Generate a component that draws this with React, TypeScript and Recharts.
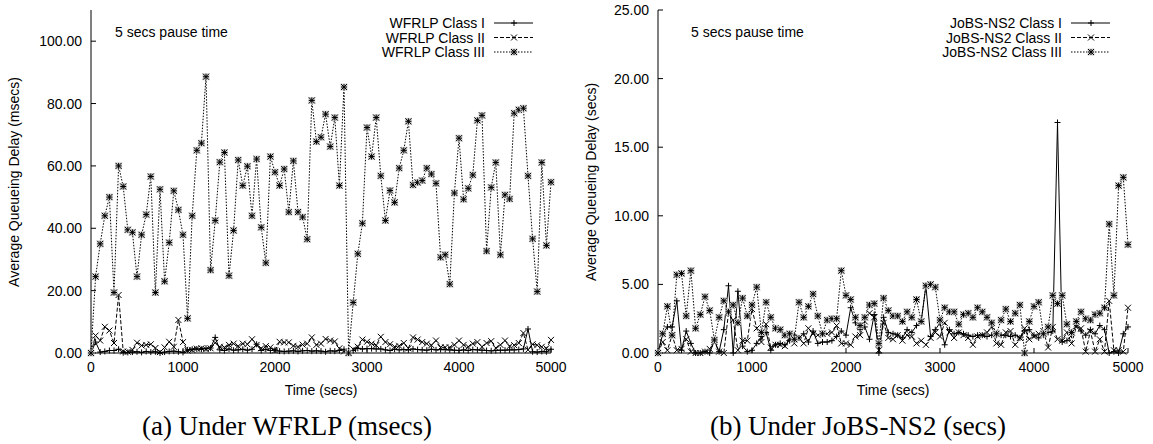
import { LineChart, Line, XAxis, YAxis, Customized } from 'recharts';

const times = [
  0, 50, 100, 150, 200, 250, 300, 350, 400, 450,
  500, 550, 600, 650, 700, 750, 800, 850, 900, 950,
  1000, 1050, 1100, 1150, 1200, 1250, 1300, 1350, 1400, 1450,
  1500, 1550, 1600, 1650, 1700, 1750, 1800, 1850, 1900, 1950,
  2000, 2050, 2100, 2150, 2200, 2250, 2300, 2350, 2400, 2450,
  2500, 2550, 2600, 2650, 2700, 2750, 2800, 2850, 2900, 2950,
  3000, 3050, 3100, 3150, 3200, 3250, 3300, 3350, 3400, 3450,
  3500, 3550, 3600, 3650, 3700, 3750, 3800, 3850, 3900, 3950,
  4000, 4050, 4100, 4150, 4200, 4250, 4300, 4350, 4400, 4450,
  4500, 4550, 4600, 4650, 4700, 4750, 4800, 4850, 4900, 4950, 5000,
];

// WFRLP, msecs
const wfrlpClass1 = [
  0, 3.5, 0.3, 0.5, 0.8, 0.8, 1.2, 0.1, 0.2, 0.3,
  0.4, 0.2, 0.5, 0.3, 0.4, 0, 0.3, 0.5, 0.6, 0.4,
  0.2, 1.0, 1.2, 1.3, 1.2, 1.5, 1.6, 5.0, 1.0, 0.8,
  1.3, 0.9, 1.0, 1.2, 0.9, 1.2, 2.8, 0.8, 1.2, 0.8,
  1.0, 0.6, 0.5, 0.6, 0.7, 0.5, 0.7, 0.8, 0.6, 0.7,
  0.6, 0.4, 0.7, 0.6, 0.8, 1.2, 0.3, 0.8, 1.5, 1.3,
  1.4, 1.4, 1.3, 1.3, 1.0, 0.8, 1.2, 1.0, 1.1, 1.0,
  1.3, 1.1, 1.0, 0.9, 1.2, 1.0, 1.1, 1.1, 1.0, 0.9,
  0.8, 1.0, 0.8, 1.1, 1.0, 0.9, 0.8, 0.7, 0.8, 0.9,
  0.9, 1.0, 1.0, 1.1, 1.3, 7.7, 0.4, 0.3, 0.5, 0.4, 1.2,
];
const wfrlpClass2 = [
  0, 5.6, 4.0, 8.4, 7.2, 3.2, 18.6, 0.5, 0.4, 1.0,
  3.3, 2.4, 2.6, 2.8, 1.6, 0.3, 1.8, 3.6, 2.0, 10.6,
  3.5, 0.8, 1.0, 1.4, 1.5, 1.2, 1.5, 3.3, 2.0, 1.8,
  2.6, 3.0, 2.2, 3.0, 2.8, 4.4, 2.6, 1.5, 2.2, 1.8,
  0.8, 3.6, 3.4, 3.4, 2.3, 2.0, 2.7, 3.0, 5.0, 2.6,
  3.0, 4.5, 4.0, 3.7, 1.5, 0.5, 0, 1.2, 2.0, 4.3,
  3.6, 3.0, 2.5, 5.2, 3.5, 2.8, 2.0, 2.3, 3.2, 1.5,
  5.0, 4.3, 3.5, 3.0, 2.5, 4.0, 1.8, 1.8, 1.8, 2.6,
  4.0, 2.6, 2.0, 3.0, 3.5, 2.0, 3.2, 3.8, 1.6, 2.6,
  4.0, 2.2, 2.5, 3.2, 6.4, 1.0, 2.8, 2.5, 2.0, 1.5, 4.2,
];
const wfrlpClass3 = [
  0, 24.5, 35, 44, 50, 19.4, 60, 53.4, 39.5, 38.7,
  24.5, 37.9, 44.4, 56.6, 19.4, 52.5, 23, 35.4, 52, 45.9,
  37.9, 11.1, 44, 65, 67.3, 88.6, 26.6, 42.5, 61.2, 64.3,
  24.8, 39.3, 61.9, 53.7, 59.9, 44, 62.2, 40.3, 28.9, 63,
  58, 53.7, 59, 45.2, 61.6, 45.2, 43.6, 36.5, 81, 67.8,
  69.2, 76.6, 66.2, 75.5, 53.7, 85.3, 0, 16.2, 31.8, 41.6,
  72.3, 63, 75.5, 56.8, 42.5, 52.1, 48.3, 59.3, 65, 74.3,
  53.9, 54.7, 55.3, 59.3, 57.4, 54.4, 30.7, 31.5, 22.1, 51.3,
  68.9, 49.3, 52.8, 57.1, 74.6, 76.2, 32.7, 53.1, 61.1, 31.5,
  50.7, 49.4, 76.9, 78, 78.5, 56.8, 36.6, 19.7, 61.1, 34.5, 54.8,
];

// JoBS-NS2, secs
const jobsClass1 = [
  0, 1.4, 1.9, 1.9, 3.8, 0.2, 1.6, 0.7, 0, 0,
  0.1, 0, 0.9, 0.1, 1.7, 4.9, 0, 4.5, 0.5, 0.1,
  0.2, 0.7, 1.2, 1.5, 0.2, 0.6, 0.7, 0.6, 0.9, 1.3,
  1.1, 1.4, 0.8, 1.6, 0.7, 0.8, 0.8, 0.9, 1.2, 1.6,
  1.3, 3.3, 2.2, 1.7, 1.9, 1.0, 2.8, 0, 2.6, 1.5,
  1.4, 1.3, 1.1, 1.7, 1.5, 2.0, 2.3, 4.9, 1.2, 1.7,
  2.2, 0.6, 1.7, 1.4, 1.5, 1.4, 1.3, 1.2, 1.3, 1.3,
  1.2, 1.3, 1.3, 1.3, 1.3, 1.2, 1.3, 1.1, 1.6, 1.7,
  1.3, 1.1, 1.3, 1.5, 1.6, 16.8, 0.8, 0.9, 1.3, 2.1,
  1.6, 1.3, 1.7, 1.4, 2.0, 1.7, 0, 0.1, 0, 1.4, 1.9,
];
const jobsClass2 = [
  0, 0.8, 0.2, 1.3, 0.2, 0.3, 1.0, 0.1, 0, 0,
  0.1, 0.3, 0.8, 0.1, 0, 2.9, 2.4, 0.2, 0.9, 0.9,
  3.2, 1.8, 0.8, 2.1, 0.4, 0.6, 0.6, 0.5, 1.1, 0.7,
  1.1, 0.7, 1.8, 1.4, 1.3, 1.4, 1.4, 1.5, 2.0, 0.7,
  0.7, 0.6, 1.2, 1.3, 2.3, 2.9, 2.6, 0.2, 2.2, 1.1,
  1.0, 1.3, 0.9, 1.3, 1.2, 0.7, 0.9, 0.6, 1.1, 1.5,
  1.2, 2.2, 1.5, 1.1, 1.5, 1.3, 1.1, 0.6, 1.2, 1.3,
  1.5, 1.9, 0.7, 0.6, 1.5, 1.6, 0.6, 1.1, 1.8, 1.0,
  1.2, 1.4, 1.6, 0.4, 1.9, 1.0, 0.9, 1.5, 0.7, 1.9,
  1.8, 0.1, 1.6, 0.1, 1.0, 0.1, 3.8, 0.2, 0.2, 0.1, 3.3,
];
const jobsClass3 = [
  0, 1.4, 3.4, 1.3, 5.7, 5.8, 2.7, 6.0, 1.8, 2.8,
  4.1, 3.1, 0.95, 2.6, 3.8, 3.0, 3.5, 2.2, 4.0, 2.7,
  3.5, 4.8, 1.5, 3.7, 2.6, 1.8, 1.7, 1.3, 1.4, 1.0,
  3.7, 2.6, 3.4, 4.3, 2.7, 1.4, 2.4, 2.5, 2.5, 6.0,
  4.2, 3.9, 2.6, 2.0, 2.6, 3.5, 3.6, 0.7, 4.0, 3.1,
  2.7, 2.7, 2.3, 3.0, 2.6, 3.9, 2.3, 4.9, 5.0, 4.8,
  2.4, 3.3, 3.0, 3.0, 2.1, 2.8, 2.9, 2.6, 3.3, 3.0,
  2.6, 2.2, 1.4, 2.4, 3.2, 2.3, 2.9, 3.5, 0, 2.3,
  3.4, 3.7, 1.4, 1.9, 4.2, 3.6, 4.2, 2.1, 1.5, 2.3,
  3.0, 2.5, 2.4, 2.8, 2.9, 3.3, 9.4, 4.2, 12.2, 12.8, 7.9,
];

const xTicks = [0, 1000, 2000, 3000, 4000, 5000];
const wfrlpTicks = [0, 20, 40, 60, 80, 100];
const jobsTicks = [0, 5, 10, 15, 20, 25];

const SANS = '"Liberation Sans", Arial, Helvetica, sans-serif';
const SERIF = '"Liberation Serif", "Times New Roman", serif';
const dashes = [undefined, '4 2', '1.5 1.5'];

function Marker({ kind, cx, cy }: { kind: number; cx: number; cy: number }) {
  const s = 3;
  if (kind === 0) {
    return (
      <g stroke="#000" strokeWidth={1}>
        <line x1={cx - s} x2={cx + s} y1={cy} y2={cy} />
        <line x1={cx} x2={cx} y1={cy - s} y2={cy + s} />
      </g>
    );
  }
  if (kind === 1) {
    return (
      <g stroke="#000" strokeWidth={1}>
        <line x1={cx - s} x2={cx + s} y1={cy - s} y2={cy + s} />
        <line x1={cx - s} x2={cx + s} y1={cy + s} y2={cy - s} />
      </g>
    );
  }
  return (
    <g stroke="#000" strokeWidth={1}>
      <rect x={cx - 3.5} y={cy - 3.5} width={7} height={7} fill="#cfcfcf" stroke="none" />
      <line x1={cx - s} x2={cx + s} y1={cy} y2={cy} />
      <line x1={cx} x2={cx} y1={cy - s} y2={cy + s} />
      <line x1={cx - s} x2={cx + s} y1={cy - s} y2={cy + s} />
      <line x1={cx - s} x2={cx + s} y1={cy + s} y2={cy - s} />
    </g>
  );
}

const dotFor = (kind: number) => (p: any) => {
  if (p.cx == null || p.cy == null) return <g key={p.index} />;
  return (
    <g key={`${kind}-${p.index}`}>
      <Marker kind={kind} cx={p.cx} cy={p.cy} />
    </g>
  );
};

type PanelProps = {
  names: string[];
  series: number[][];
  yTicks: number[];
  yMax: number;
  yLabel: string;
  caption: string;
  width: number;
  yAxisWidth: number;
  rightMargin: number;
  titleX: number;
  yLabelX: number;
  captionX: number;
};

function Decor(props: PanelProps & { plotLeft: number; plotRight: number }) {
  const { names, plotLeft, plotRight, titleX, yLabel, yLabelX, caption, captionX } = props;
  return (
    <g fontFamily={SANS} fill="#000">
      <text x={titleX} y={37} fontSize={14}>5 secs pause time</text>
      {names.map((n, i) => {
        const y = 23 + i * 14.5;
        return (
          <g key={n}>
            <text x={plotRight - 66} y={y + 5} fontSize={14} textAnchor="end">{n}</text>
            <line x1={plotRight - 57} x2={plotRight - 18} y1={y} y2={y} stroke="#000" strokeDasharray={dashes[i]} />
            <Marker kind={i} cx={plotRight - 37} cy={y} />
          </g>
        );
      })}
      <text
        x={-182}
        y={yLabelX}
        transform="rotate(-90)"
        fontSize={14}
        textAnchor="middle"
        dominantBaseline="central"
      >
        {yLabel}
      </text>
      <text x={(plotLeft + plotRight) / 2} y={395} fontSize={14} textAnchor="middle">Time (secs)</text>
      <text x={captionX} y={435} fontSize={27} fontFamily={SERIF} textAnchor="middle">{caption}</text>
    </g>
  );
}

function Panel(props: PanelProps) {
  const { series, yTicks, yMax, width, yAxisWidth, rightMargin } = props;
  const data = times.map((t, i) => ({ t, c1: series[0][i], c2: series[1][i], c3: series[2][i] }));
  const plotLeft = yAxisWidth;
  const plotRight = width - rightMargin;
  const tickStyle = { fill: '#000', fontSize: 14, fontFamily: SANS };
  return (
    <LineChart width={width} height={444} data={data} margin={{ top: 10, right: rightMargin, bottom: 61, left: 0 }}>
      <XAxis
        dataKey="t"
        type="number"
        domain={[0, 5000]}
        ticks={xTicks}
        interval={0}
        height={30}
        tickSize={-5}
        tickMargin={14}
        tick={tickStyle}
        axisLine={{ stroke: '#000' }}
        tickLine={{ stroke: '#000' }}
      />
      <XAxis
        xAxisId="top"
        orientation="top"
        dataKey="t"
        type="number"
        domain={[0, 5000]}
        ticks={xTicks}
        interval={0}
        height={0}
        tickSize={-5}
        tick={false}
        axisLine={{ stroke: '#000' }}
        tickLine={{ stroke: '#000' }}
      />
      <YAxis
        type="number"
        domain={[0, yMax]}
        ticks={yTicks}
        interval={0}
        width={yAxisWidth}
        tickSize={-5}
        tickMargin={14}
        tick={tickStyle}
        tickFormatter={(v: number) => v.toFixed(2)}
        axisLine={{ stroke: '#000' }}
        tickLine={{ stroke: '#000' }}
      />
      <YAxis
        yAxisId="right"
        orientation="right"
        type="number"
        domain={[0, yMax]}
        ticks={yTicks}
        interval={0}
        width={0}
        tickSize={-5}
        tick={false}
        axisLine={{ stroke: '#000' }}
        tickLine={{ stroke: '#000' }}
      />
      <Line dataKey="c1" stroke="#000" strokeWidth={1} dot={dotFor(0)} activeDot={false} isAnimationActive={false} />
      <Line dataKey="c2" stroke="#000" strokeWidth={1} strokeDasharray={dashes[1]} dot={dotFor(1)} activeDot={false} isAnimationActive={false} />
      <Line dataKey="c3" stroke="#000" strokeWidth={1} strokeDasharray={dashes[2]} dot={dotFor(2)} activeDot={false} isAnimationActive={false} />
      <Customized component={<Decor {...props} plotLeft={plotLeft} plotRight={plotRight} />} />
    </LineChart>
  );
}

export default function App() {
  return (
    <div style={{ position: 'absolute', left: 0, top: 0, width: 1153, height: 444, background: '#fff' }}>
      <div style={{ position: 'absolute', left: 0, top: 0 }}>
        <Panel
          names={['WFRLP Class I', 'WFRLP Class II', 'WFRLP Class III']}
          series={[wfrlpClass1, wfrlpClass2, wfrlpClass3]}
          yTicks={wfrlpTicks}
          yMax={110}
          yLabel="Average Queueing Delay (msecs)"
          caption="(a) Under WFRLP (msecs)"
          width={575}
          yAxisWidth={91}
          rightMargin={24}
          titleX={115}
          yLabelX={14}
          captionX={287}
        />
      </div>
      <div style={{ position: 'absolute', left: 575, top: 0 }}>
        <Panel
          names={['JoBS-NS2 Class I', 'JoBS-NS2 Class II', 'JoBS-NS2 Class III']}
          series={[jobsClass1, jobsClass2, jobsClass3]}
          yTicks={jobsTicks}
          yMax={25}
          yLabel="Average Queueing Delay (secs)"
          caption="(b) Under JoBS-NS2 (secs)"
          width={578}
          yAxisWidth={83}
          rightMargin={25}
          titleX={116}
          yLabelX={16}
          captionX={283}
        />
      </div>
    </div>
  );
}
